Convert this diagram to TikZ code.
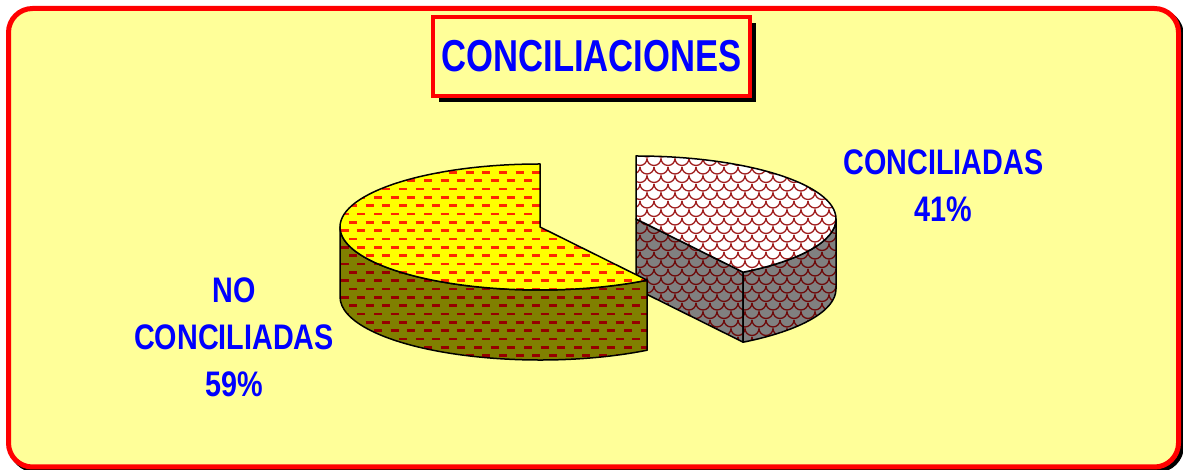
\documentclass[tikz,border=0pt]{standalone}
\usepackage{fontspec}
\usepackage{graphicx}
\setmainfont{Liberation Sans}
\usetikzlibrary{shadows}
\definecolor{bgyellow}{RGB}{255,255,153}
\definecolor{framered}{RGB}{255,0,0}
\definecolor{txtblue}{RGB}{0,0,255}
\definecolor{topyellow}{RGB}{255,255,0}
\definecolor{sideolive}{RGB}{128,128,0}
\definecolor{dashred}{RGB}{255,40,0}
\definecolor{dashdark}{RGB}{150,0,0}
\definecolor{scalered}{RGB}{160,30,30}
\definecolor{scaledark}{RGB}{110,10,10}
\definecolor{sidegrey}{RGB}{128,128,128}
\newcommand\cndl[1]{\scalebox{0.81}[1]{#1}}
\newcommand\cndt[1]{\scalebox{0.775}[1]{#1}}
\begin{document}
\begin{tikzpicture}[x=1pt,y=1pt,
  ell/.style={x radius=200pt, y radius=63pt},
  outline/.style={draw=black, line width=1.5pt, line join=round},
  lbl/.style={text=txtblue, font=\fontsize{35.5}{47}\selectfont\bfseries, align=center, inner sep=0pt},
  titlebox/.style={draw=framered, line width=4pt, fill=bgyellow, minimum width=317pt, minimum height=79pt,
    inner sep=0pt, outer sep=0pt, text=txtblue, font=\fontsize{44.7}{50}\selectfont\bfseries,
    drop shadow={shadow xshift=6pt, shadow yshift=-6pt, opacity=1, fill=black}},
  dashline/.style={line width=2.8pt, dash pattern=on 8pt off 8.67pt},
  scaleline/.style={line width=1.3pt},
]
\useasboundingbox (0,0) rectangle (1183,470);
\fill[white] (0,0) rectangle (1183,470);
% outer frame with shadow
\draw[black, fill=black, line width=5pt, rounded corners=24pt] (11.5,0) rectangle (1181.5,458.5);
\draw[framered, fill=bgyellow, line width=5pt, rounded corners=24pt] (8.5,3) rectangle (1178.5,461.5);
% title
\node[titlebox] (title) at (591.5,413.5) {\cndt{CONCILIACIONES}};
% slice paths
\def\gTop{(636,251) -- (636,314) arc[start angle=90, end angle=-57.6, ell] -- cycle}
\def\gCut{(636,251) -- (743.2,197.8) -- (743.2,127.8) -- (636,181) -- cycle}
\def\gSide{(743.2,197.8) arc[start angle=-57.6, end angle=0, ell] -- (836,181) arc[start angle=0, end angle=-57.6, ell] -- cycle}
\def\yTop{(540,243) -- (540,306) arc[start angle=90, end angle=302.4, ell] -- cycle}
\def\ySide{(340,243) arc[start angle=180, end angle=302.4, ell] -- (647.2,119.8) arc[start angle=302.4, end angle=180, ell] -- cycle}
% grey slice: side faces
\begin{scope}
  \clip \gCut;
  \fill[sidegrey] (620,100) rectangle (860,330);
  \foreach \j in {0,...,26} {\foreach \i in {0,...,16} {
    \draw[scaleline, scaledark] ({626+14*\i+7*mod(\j,2)},{320-8.5*\j}) arc[start angle=180, end angle=360, radius=7pt];}}
\end{scope}
\begin{scope}
  \clip \gSide;
  \fill[sidegrey] (620,100) rectangle (860,330);
  \foreach \j in {0,...,26} {\foreach \i in {0,...,16} {
    \draw[scaleline, scaledark] ({626+14*\i+7*mod(\j,2)},{320-8.5*\j}) arc[start angle=180, end angle=360, radius=7pt];}}
\end{scope}
\draw[outline] \gCut;
\draw[outline] \gSide;
% grey slice: top
\begin{scope}
  \clip \gTop;
  \fill[white] (620,100) rectangle (860,330);
  \foreach \j in {0,...,26} {\foreach \i in {0,...,16} {
    \draw[scaleline, scalered] ({626+14*\i+7*mod(\j,2)},{320-8.5*\j}) arc[start angle=180, end angle=360, radius=7pt];}}
\end{scope}
\draw[outline] \gTop;
% yellow slice: side
\begin{scope}
  \clip \ySide;
  \fill[sideolive] (320,100) rectangle (670,320);
  \foreach \j in {0,...,26} {
    \pgfmathsetmacro\yy{106.1+8.33*\j}
    \pgfmathsetmacro\ph{8.33*mod(\j,2)}
    \draw[dashline, dashdark, dash phase=\ph pt] (324,\yy) -- (670,\yy);}
\end{scope}
\draw[outline] \ySide;
% yellow slice: top
\begin{scope}
  \clip \yTop;
  \fill[topyellow] (320,100) rectangle (670,320);
  \foreach \j in {0,...,26} {
    \pgfmathsetmacro\yy{106.1+8.33*\j}
    \pgfmathsetmacro\ph{8.33*mod(\j,2)}
    \draw[dashline, dashred, dash phase=\ph pt] (324,\yy) -- (670,\yy);}
\end{scope}
\draw[outline] \yTop;
% labels
\node[lbl] (lconc) at (943.5,284) {\cndl{CONCILIADAS}\\\cndl{41\%}};
\node[lbl] (lno) at (234,133) {\cndl{NO}\\\cndl{CONCILIADAS}\\\cndl{59\%}};
\end{tikzpicture}
\end{document}
